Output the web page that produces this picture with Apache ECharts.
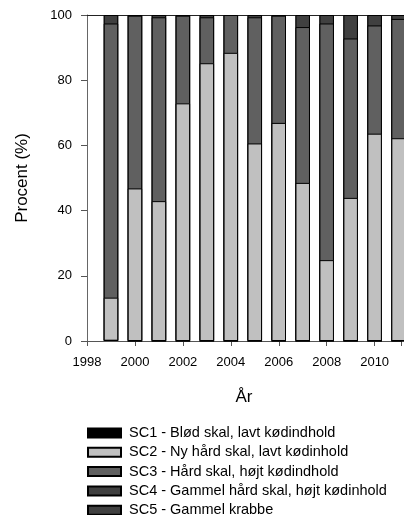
<!DOCTYPE html>
<html>
<head>
<meta charset="utf-8">
<script src="https://cdn.jsdelivr.net/npm/echarts@6/dist/echarts.min.js"></script>
<style>html,body{margin:0;padding:0;background:#fff}#c{width:404px;height:515px}</style>
</head>
<body>
<div id="c"></div>
<script>
const years = [1999, 2000, 2001, 2002, 2003, 2004, 2005, 2006, 2007, 2008, 2009, 2010, 2011];
const sc1 = [0.4, 0, 0, 0, 0, 0, 0, 0, 0, 0, 0, 0, 0];
const sc2 = [12.9, 46.8, 42.9, 72.9, 85.2, 88.4, 60.6, 66.9, 48.5, 24.8, 43.9, 63.6, 62.2];
const sc3 = [84.1, 53.0, 56.4, 26.9, 14.1, 11.6, 38.7, 32.9, 47.8, 72.6, 48.9, 33.2, 36.6];
const sc4 = [2.6, 0.2, 0.7, 0.2, 0.7, 0, 0.7, 0.2, 3.7, 2.6, 7.2, 3.2, 1.2];
const sc5 = [0, 0, 0, 0, 0, 0, 0, 0, 0, 0, 0, 0, 0];
const names = [
  'SC1 - Blød skal, lavt kødindhold',
  'SC2 - Ny hård skal, lavt kødinhold',
  'SC3 - Hård skal, højt kødindhold',
  'SC4 - Gammel hård skal, højt kødinhold',
  'SC5 - Gammel krabbe'
];
const colors = ['#000000', '#c0c0c0', '#606060', '#404040', '#404040'];
const seriesVals = [sc1, sc2, sc3, sc4, sc5];

// cumulative tops (stacking computed from the arrays; drawn top-down so lower segments overlay)
const cumul = seriesVals.map((_, i) => years.map((y, k) => {
  let s = 0;
  for (let j = 0; j <= i; j++) s += seriesVals[j][k];
  return +s.toFixed(3);
}));

const font = 'Liberation Sans, Arial, sans-serif';
const chart = echarts.init(document.getElementById('c'), null, {renderer: 'canvas'});
const series = [];
for (let i = seriesVals.length - 1; i >= 0; i--) {
  series.push({
    name: names[i],
    type: 'bar',
    barWidth: 14.5,
    barGap: '-100%',
    xAxisIndex: 0,
    z: 2,
    itemStyle: {color: colors[i], borderColor: '#000', borderWidth: 1},
    data: years.map((y, k) => [y, cumul[i][k]])
  });
}
chart.setOption({
  animation: false,
  textStyle: {fontFamily: font},
  grid: {left: 87, top: 15, right: 0, bottom: 174, containLabel: false},
  legend: {
    orient: 'vertical', left: 87, top: 425.5, height: 100, padding: 0,
    itemWidth: 33, itemHeight: 9, itemGap: 4.3,
    icon: 'rect',
    textStyle: {fontFamily: font, fontSize: 14.5, color: '#000', lineHeight: 14, padding: [0, 0, 0, 3]},
    data: names
  },
  xAxis: [{
    type: 'value', min: 1998, max: 2011.1, interval: 2,
    name: 'År', nameLocation: 'middle', nameGap: 48,
    nameTextStyle: {fontSize: 17, color: '#000', fontFamily: font},
    axisLine: {lineStyle: {color: '#555', width: 1}},
    axisTick: {length: 5, lineStyle: {color: '#555'}},
    axisLabel: {fontSize: 13, color: '#000', margin: 15,
      formatter: v => (Math.abs(v - Math.round(v)) < 1e-6 && Math.round(v) % 2 === 0) ? String(Math.round(v)) : ''},
    splitLine: {show: false}
  }, {
    type: 'value', min: 1998, max: 2011.1, position: 'top',
    axisLine: {show: true, lineStyle: {color: '#222', width: 1}},
    axisTick: {show: false}, axisLabel: {show: false}, splitLine: {show: false}
  }],
  yAxis: {
    type: 'value', min: 0, max: 100, interval: 20,
    name: 'Procent (%)', nameLocation: 'middle', nameGap: 56,
    nameTextStyle: {fontSize: 17, color: '#000', fontFamily: font},
    axisLine: {show: true, lineStyle: {color: '#666', width: 1}},
    axisTick: {show: true, length: 6, lineStyle: {color: '#555'}},
    axisLabel: {fontSize: 13, color: '#000', margin: 15},
    splitLine: {show: false}
  },
  series: series
});
</script>
</body>
</html>
